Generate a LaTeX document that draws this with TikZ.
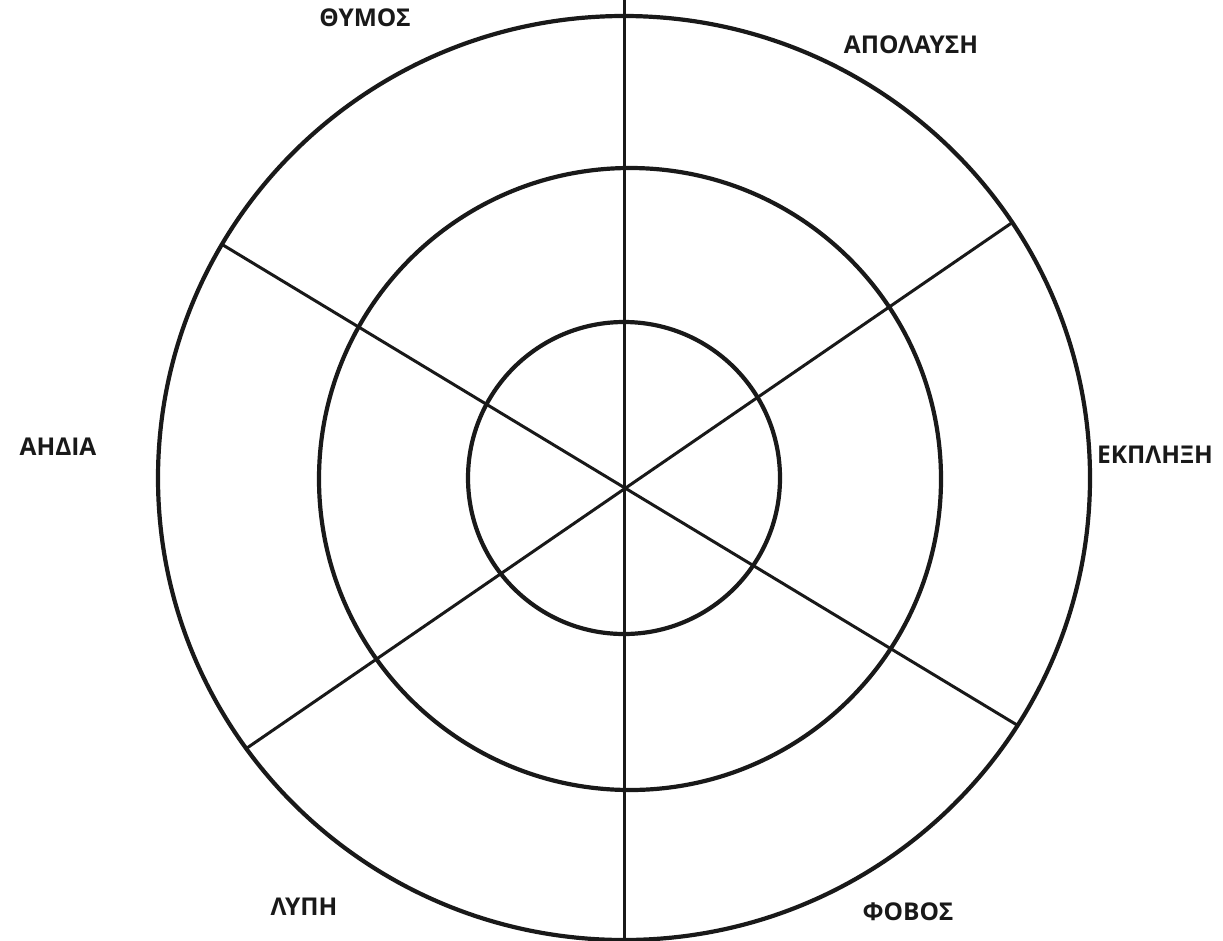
\documentclass[tikz,border=0pt]{standalone}
\usepackage{fontspec}
\setmainfont{Open Sans}
\begin{document}
\begin{tikzpicture}[x=1pt,y=-1pt,
  ring/.style={line width=4.2pt, color=black!90},
  spoke/.style={line width=3pt, color=black!90},
  lbl/.style={font=\fontsize{24.5}{28}\selectfont\bfseries, text=black!90, inner sep=0pt}]
\useasboundingbox (0,0) rectangle (1223,940);
\coordinate (c) at (624,478);
\coordinate (cm) at (630,479);
\draw[ring] (c) ellipse [x radius=466, y radius=462];
\draw[ring] (cm) circle [radius=311];
\draw[ring] (c) circle [radius=156];
\coordinate (top) at (624,0);
\coordinate (bot) at (624,940);
\coordinate (ul) at (223,245);
\coordinate (lr) at (1017,725);
\coordinate (ur) at (1013,222);
\coordinate (ll) at (247,748);
\draw[spoke] (top) -- (bot);
\draw[spoke] (ul) -- (lr);
\draw[spoke] (ur) -- (ll);
\node[lbl] (thymos) at (365,18) {ΘΥΜΟΣ};
\node[lbl] (apol) at (911,45) {ΑΠΟΛΑΥΣΗ};
\node[lbl] (ahdia) at (58,447) {ΑΗΔΙΑ};
\node[lbl] (ekpl) at (1155,455) {ΕΚΠΛΗΞΗ};
\node[lbl] (lypi) at (304,907) {ΛΥΠΗ};
\node[lbl] (fobos) at (908,912) {ΦΟΒΟΣ};
\end{tikzpicture}
\end{document}
